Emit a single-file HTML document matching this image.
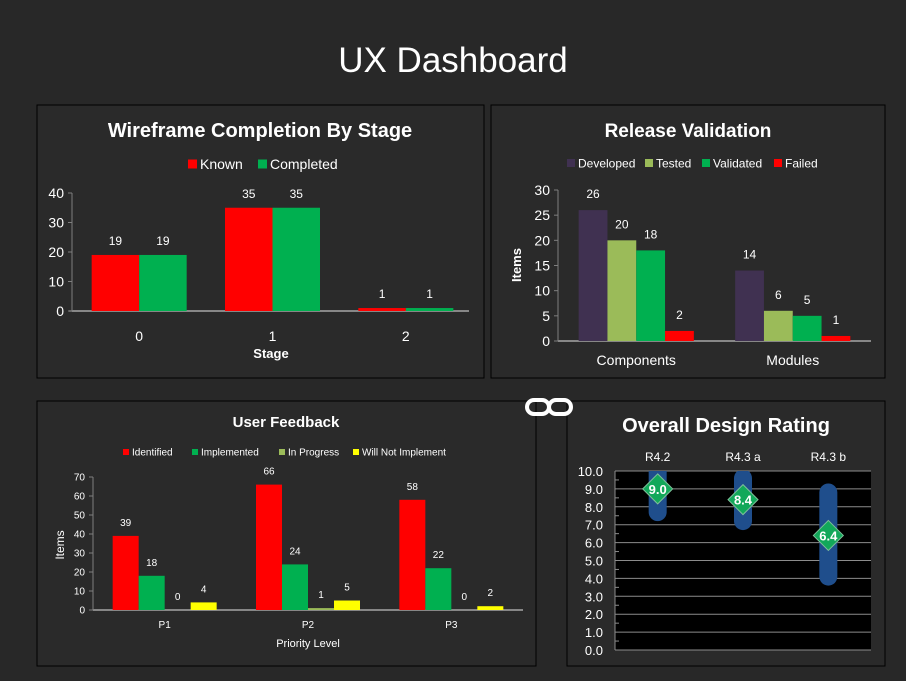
<!DOCTYPE html>
<html><head><meta charset="utf-8">
<style>
html,body{margin:0;padding:0;background:#282828;}
svg{display:block;font-family:"Liberation Sans",sans-serif;}
</style></head>
<body>
<svg id="dash" width="906" height="681" viewBox="0 0 906 681" xmlns="http://www.w3.org/2000/svg">
<rect x="0" y="0" width="906" height="681" fill="#282828"/>
<text x="453" y="72" text-anchor="middle" fill="#fff" font-size="35">UX Dashboard</text>
<rect x="37" y="105" width="447" height="273" fill="#2a2a2a" stroke="#000"/>
<rect x="491" y="105" width="394" height="273" fill="#2a2a2a" stroke="#000"/>
<rect x="37" y="401" width="499" height="265" fill="#2a2a2a" stroke="#000"/>
<rect x="567" y="401" width="318" height="265" fill="#2a2a2a" stroke="#000"/>
<g fill="none" stroke="#fff" stroke-width="4">
<rect x="527" y="400" width="22" height="14" rx="7"/>
<rect x="549" y="400" width="22" height="14" rx="7"/>
</g>
<g id="g1"></g>
<g id="g2"></g>
<g id="g3"></g>
<g id="g4"></g>
</svg>
<script>
// Chart 1 data
const wfCategories = ["0","1","2"];
const wfKnown = [19,35,1];
const wfCompleted = [19,35,1];
const wfTicks = [0,10,20,30,40];
// Chart 2 data
const rvCategories = ["Components","Modules"];
const rvDeveloped = [26,14];
const rvTested = [20,6];
const rvValidated = [18,5];
const rvFailed = [2,1];
const rvTicks = [0,5,10,15,20,25,30];
// Chart 3 data
const ufCategories = ["P1","P2","P3"];
const ufIdentified = [39,66,58];
const ufImplemented = [18,24,22];
const ufInProgress = [0,1,0];
const ufWillNot = [4,5,2];
const ufTicks = [0,10,20,30,40,50,60,70];
// Chart 4 data
const drCategories = ["R4.2","R4.3 a","R4.3 b"];
const drRating = [9.0,8.4,6.4];
const drHigh = [10.3,9.6,8.8];
const drLow = [7.7,7.2,4.1];
const drTicks = [0,1,2,3,4,5,6,7,8,9,10];

const NS="http://www.w3.org/2000/svg";
function mk(parent,tag,attrs,txt){
  const e=document.createElementNS(NS,tag);
  for(const k in attrs) e.setAttribute(k,attrs[k]);
  if(txt!==undefined) e.textContent=txt;
  parent.appendChild(e); return e;
}
function barChart(g,o){
  const y=v=>o.y0-(v-o.vmin)/(o.vmax-o.vmin)*(o.y0-o.y1);
  const cw=(o.x1-o.x0)/o.cats.length;
  let ax=mk(g,'line',{x1:o.x0,x2:o.x1,y1:o.y0,y2:o.y0,stroke:'#bfbfbf','stroke-width':1.2});
  
  
  let ay=mk(g,'line',{x1:o.x0+o.yoff,x2:o.x0+o.yoff,y1:o.y0,y2:y(o.ticks[o.ticks.length-1]),stroke:'#7f7f7f','stroke-width':1});
  
  
  o.ticks.forEach(t=>{
    mk(g,'line',{x1:o.x0+o.yoff-4,x2:o.x0+o.yoff,y1:y(t),y2:y(t),stroke:'#7f7f7f'});
    const tl=mk(g,'text',{x:o.x0+o.yoff-8,y:y(t)+o.tfs*0.36,'text-anchor':'end',fill:'#fff','font-size':o.tfs},t);
    
    
  });
  o.cats.forEach((c,i)=>{
    const cx=o.x0+cw*(i+0.5)+(o.xshift||0);
    const start=cx-o.series.length*o.bw/2;
    o.series.forEach((s,j)=>{
      const v=s.vals[i];
      const bx=start+j*o.bw;
      const r=mk(g,'rect',{x:bx,y:y(v),width:o.bw,height:Math.max(0,o.y0-y(v)),fill:s.color});
      
      
      const l=mk(g,'text',{x:bx+o.bw/2,y:y(v)-o.lgap,'text-anchor':'middle',fill:'#fff','font-size':o.lfs},v);
      
      
    });
    const xl=mk(g,'text',{x:cx,y:o.y0+o.xly,'text-anchor':'middle',fill:'#fff','font-size':o.xfs},c);
    
    
  });
}
function legend(g,items,y,fs,sq){
  items.forEach(it=>{
    const r=mk(g,'rect',{x:it.x,y:y-sq/2,width:sq,height:sq,fill:it.color});
    
    
    const t=mk(g,'text',{x:it.x+sq+3,y:y+fs*0.36,fill:'#fff','font-size':fs},it.label);
    
    
  });
}
function title(g,x,y,txt,fs){
  const t=mk(g,'text',{x:x,y:y,'text-anchor':'middle',fill:'#fff','font-size':fs,'font-weight':'bold'},txt);
  
  
}
// Chart 1
const g1=document.getElementById('g1');
title(g1,260,137,"Wireframe Completion By Stage",20);
legend(g1,[{x:188,color:'#ff0000',label:'Known'},{x:258,color:'#00b050',label:'Completed'}],164,14,9);
barChart(g1,{x0:69,x1:469,y0:311,y1:193,vmin:0,vmax:40,ticks:wfTicks,cats:wfCategories,bw:47.5,yoff:3,xshift:3.5,
  series:[{key:'known',vals:wfKnown,color:'#ff0000'},{key:'completed',vals:wfCompleted,color:'#00b050'}],
  tfs:14,lfs:12,lgap:10,xfs:14,xly:30});
let s1=mk(g1,'text',{x:271,y:358,'text-anchor':'middle',fill:'#fff','font-size':13,'font-weight':'bold'},'Stage');
 
// Chart 2
const g2=document.getElementById('g2');
title(g2,688,137,"Release Validation",19);
legend(g2,[{x:567,color:'#403151',label:'Developed'},{x:645,color:'#9bbb59',label:'Tested'},{x:702,color:'#00b050',label:'Validated'},{x:774,color:'#ff0000',label:'Failed'}],163,12,8);
barChart(g2,{x0:558,x1:871,y0:341,y1:190,vmin:0,vmax:30,ticks:rvTicks,cats:rvCategories,bw:28.8,yoff:0,
  series:[{key:'developed',vals:rvDeveloped,color:'#403151'},{key:'tested',vals:rvTested,color:'#9bbb59'},{key:'validated',vals:rvValidated,color:'#00b050'},{key:'failed',vals:rvFailed,color:'#ff0000'}],
  tfs:14,lfs:12,lgap:12,xfs:14,xly:24});
let s2=mk(g2,'text',{x:0,y:0,transform:'translate(521,265) rotate(-90)','text-anchor':'middle',fill:'#fff','font-size':13,'font-weight':'bold'},'Items');
 
// Chart 3
const g3=document.getElementById('g3');
title(g3,286,427,"User Feedback",15);
legend(g3,[{x:123,color:'#ff0000',label:'Identified'},{x:192,color:'#00b050',label:'Implemented'},{x:279,color:'#9bbb59',label:'In Progress'},{x:353,color:'#ffff00',label:'Will Not Implement'}],452,10,6);
barChart(g3,{x0:93,x1:523,y0:610,y1:477,vmin:0,vmax:70,ticks:ufTicks,cats:ufCategories,bw:26,yoff:0,
  series:[{key:'identified',vals:ufIdentified,color:'#ff0000'},{key:'implemented',vals:ufImplemented,color:'#00b050'},{key:'in-progress',vals:ufInProgress,color:'#9bbb59'},{key:'will-not',vals:ufWillNot,color:'#ffff00'}],
  tfs:10,lfs:10,lgap:10,xfs:10,xly:18});
let s3=mk(g3,'text',{x:0,y:0,transform:'translate(64,545) rotate(-90)','text-anchor':'middle',fill:'#fff','font-size':12},'Items');
 
let s4=mk(g3,'text',{x:308,y:647,'text-anchor':'middle',fill:'#fff','font-size':11},'Priority Level');
 
// Chart 4
const g4=document.getElementById('g4');
title(g4,726,432,"Overall Design Rating",20);
const px0=615,px1=871,py0=650,py1=471;
const yr=v=>py0-v/10*(py0-py1);
let pa=mk(g4,'rect',{x:px0,y:py1,width:px1-px0,height:py0-py1,fill:'#000'});
 
let clip=mk(g4,'clipPath',{id:'c4'}); mk(clip,'rect',{x:px0,y:py1,width:px1-px0,height:py0-py1});
drTicks.forEach(t=>{
  mk(g4,'line',{x1:px0,x2:px1,y1:yr(t),y2:yr(t),stroke:'#8c8c8c','stroke-width':1});
  if(t<10) mk(g4,'line',{x1:px0,x2:px0+4,y1:yr(t+0.5),y2:yr(t+0.5),stroke:'#8c8c8c'});
  const tl=mk(g4,'text',{x:603,y:yr(t)+5,'text-anchor':'end',fill:'#fff','font-size':13},t.toFixed(1));
  
  
});
mk(g4,'line',{x1:px0,x2:px0,y1:py1,y2:py0,stroke:'#8c8c8c'});
const cw4=(px1-px0)/drCategories.length;
const cg=mk(g4,'g',{'clip-path':'url(#c4)'});
drCategories.forEach((c,i)=>{
  const cx=px0+cw4*(i+0.5);
  const cl=mk(g4,'text',{x:cx,y:461,'text-anchor':'middle',fill:'#fff','font-size':12},c);
  
  
  const rb=mk(cg,'line',{x1:cx,x2:cx,y1:yr(drHigh[i]),y2:yr(drLow[i]),stroke:'#1f4e8c','stroke-width':18,'stroke-linecap':'round'});
  
  
  const vy=yr(drRating[i]);
  const d=mk(g4,'polygon',{points:`${cx},${vy-15} ${cx+15},${vy} ${cx},${vy+15} ${cx-15},${vy}`,fill:'#12a85a',stroke:'#7fbf9a','stroke-width':1});
  
  
  const vl=mk(g4,'text',{x:cx,y:vy+5,'text-anchor':'middle',fill:'#fff','font-size':13,'font-weight':'bold'},drRating[i].toFixed(1));
  
  
});
</script>
</body></html>
